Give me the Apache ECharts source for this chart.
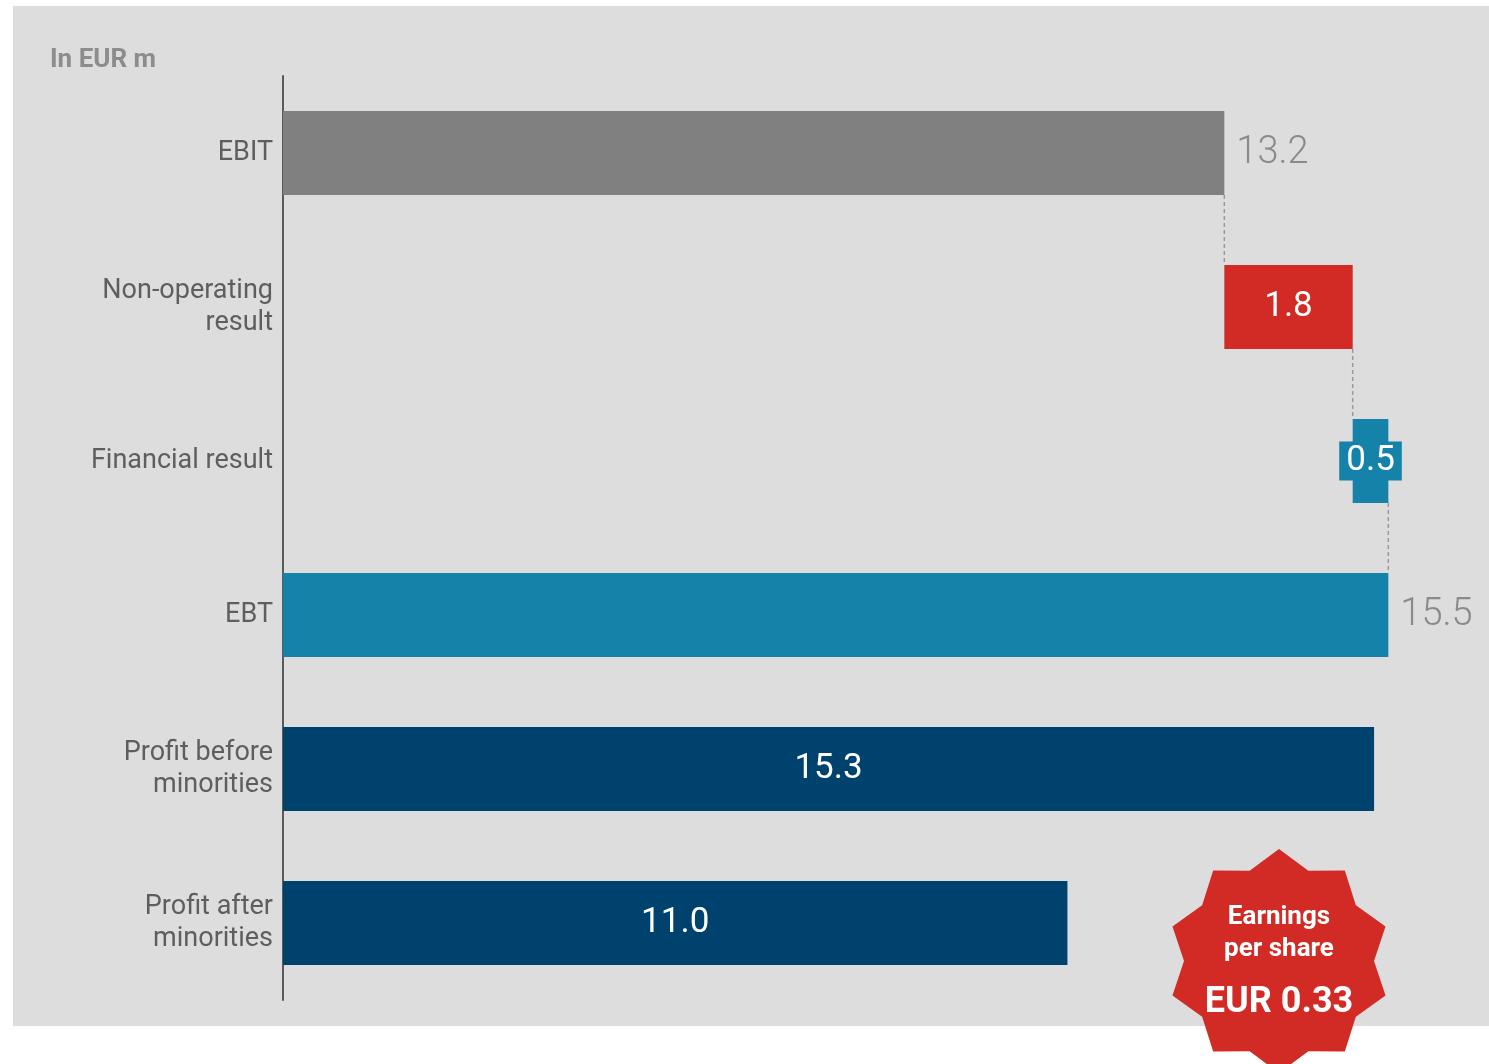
<!DOCTYPE html>
<html>
<head>
<meta charset="utf-8">
<title>EBIT to profit bridge</title>
<script src="https://cdn.jsdelivr.net/npm/echarts@6/dist/echarts.min.js"></script>
<style>
  html, body { margin: 0; padding: 0; background: #ffffff; }
  #chart { width: 1489px; height: 1064px; }
</style>
</head>
<body>
<div id="chart"></div>
<script>
// data
const categories = ['EBIT', 'Non-operating\nresult', 'Financial result', 'EBT', 'Profit before\nminorities', 'Profit after\nminorities']
const values = [13.2, 1.8, 0.5, 15.5, 15.3, 11.0]
const offsets = [0, 13.2, 15.0, 0, 0, 0] // invisible base of the floating bars
const barColors = ['#808080', '#d22a24', '#1582aa', '#1582aa', '#00426e', '#00426e']
const labelSides = ['outside', 'inside', 'boxed', 'outside', 'inside', 'inside']
const unitLabel = 'In EUR m'
const epsLines = ['Earnings', 'per share', 'EUR 0.33']

const FONT = 'Roboto, "Noto Sans", sans-serif'
const BAR_H = 84

const chart = echarts.init(document.getElementById('chart'))

// dashed connectors between the steps of the bridge
const connectors = []
for (let i = 0; i < 3; i++) {
  connectors.push([offsets[i] + values[i], i, i + 1])
}

const fmt = (p) => Number(p.value).toFixed(1)

const barLabel = (i) => {
  const side = labelSides[i]
  if (side === 'outside') {
    return { show: true, position: 'right', distance: 12, formatter: fmt, color: '#8a8a8a', fontSize: 38, fontFamily: FONT, fontWeight: 300 }
  }
  if (side === 'boxed') {
    return {
      show: true, position: 'inside', formatter: fmt, color: '#ffffff', fontSize: 35, fontFamily: FONT,
      backgroundColor: barColors[i], padding: [3, 7, 1, 7]
    }
  }
  return { show: true, position: 'inside', formatter: fmt, color: '#ffffff', fontSize: 35, fontFamily: FONT }
}

// 10-point star for the EPS badge
const starPoints = []
const cx = 1279, cy = 961, rOut = 112, rIn = 95
for (let k = 0; k < 20; k++) {
  const ang = Math.PI / 2 - k * Math.PI / 10
  const r = k % 2 === 0 ? rOut : rIn
  starPoints.push([cx + r * Math.cos(ang), cy - r * Math.sin(ang)])
}

const option = {
  animation: false,
  textStyle: { fontFamily: FONT },
  grid: { left: 283, top: 76, width: 1141, height: 924, containLabel: false },
  xAxis: {
    type: 'value',
    min: 0,
    max: 16,
    show: false
  },
  yAxis: {
    type: 'category',
    inverse: true,
    data: categories,
    axisLine: { show: true, lineStyle: { color: '#5a5a5a', width: 2 } },
    axisTick: { show: false },
    axisLabel: { color: '#5e5e5e', fontSize: 27, lineHeight: 32, margin: 10, padding: [6, 0, 0, 0], fontFamily: FONT }
  },
  graphic: [
    { type: 'rect', z: -100, shape: { x: 13, y: 6, width: 1476, height: 1020 }, style: { fill: '#dddddd' } },
    { type: 'text', left: 50, top: 47, style: { text: unitLabel, fill: '#8c8c8c', font: 'bold 26px ' + FONT } },
    { type: 'polygon', z: 100, shape: { points: starPoints }, style: { fill: '#d22a24' } },
    { type: 'text', z: 101, x: cx, y: 917, style: { text: epsLines[0], fill: '#ffffff', font: 'bold 26px ' + FONT, align: 'center', verticalAlign: 'middle' } },
    { type: 'text', z: 101, x: cx, y: 949, style: { text: epsLines[1], fill: '#ffffff', font: 'bold 26px ' + FONT, align: 'center', verticalAlign: 'middle' } },
    { type: 'text', z: 101, x: cx, y: 1003, style: { text: epsLines[2], fill: '#ffffff', font: 'bold 36px ' + FONT, align: 'center', verticalAlign: 'middle' } }
  ],
  series: [
    {
      name: 'base',
      type: 'bar',
      stack: 'bridge',
      barWidth: BAR_H,
      itemStyle: { color: 'transparent' },
      silent: true,
      data: offsets
    },
    {
      name: 'value',
      type: 'bar',
      stack: 'bridge',
      barWidth: BAR_H,
      data: values.map((v, i) => ({
        value: v,
        itemStyle: { color: barColors[i] },
        label: barLabel(i)
      }))
    },
    {
      name: 'connector',
      type: 'custom',
      silent: true,
      encode: { x: 0, y: 1 },
      renderItem: function (params, api) {
        const x = api.value(0)
        const from = api.coord([x, api.value(1)])
        const to = api.coord([x, api.value(2)])
        return {
          type: 'line',
          shape: { x1: from[0], y1: from[1] + BAR_H / 2, x2: to[0], y2: to[1] - BAR_H / 2 },
          style: { stroke: '#9a9a9a', lineWidth: 1.5, lineDash: [4, 3] }
        }
      },
      data: connectors
    }
  ]
}

chart.setOption(option)
</script>
</body>
</html>
